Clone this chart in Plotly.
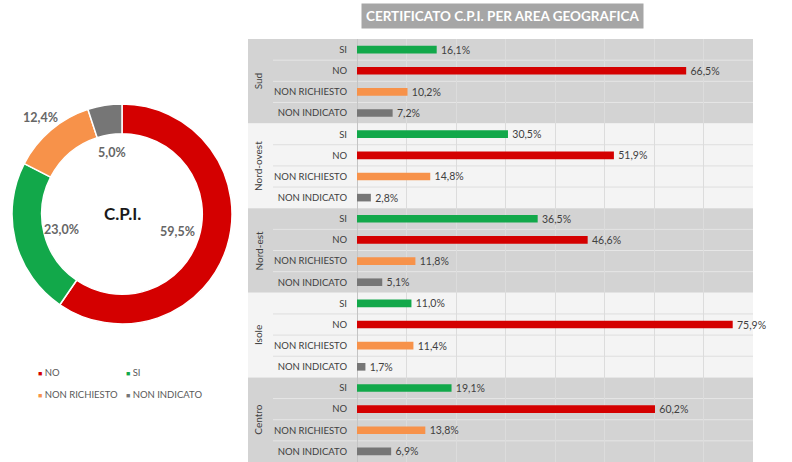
import math
import plotly.graph_objects as go

# ---------------- data ----------------
regions = ["Sud", "Nord-ovest", "Nord-est", "Isole", "Centro"]
categories = ["SI", "NO", "NON RICHIESTO", "NON INDICATO"]
si_vals = [16.1, 30.5, 36.5, 11.0, 19.1]
no_vals = [66.5, 51.9, 46.6, 75.9, 60.2]
nr_vals = [10.2, 14.8, 11.8, 11.4, 13.8]
ni_vals = [7.2, 2.8, 5.1, 1.7, 6.9]

pie_labels = ["NO", "SI", "NON RICHIESTO", "NON INDICATO"]
pie_values = [59.5, 23.0, 12.4, 5.0]

# ---------------- style ----------------
W, H = 792, 462
FONT = "Lato"
colors = {"SI": "#12a84a", "NO": "#d40000", "NON RICHIESTO": "#f7924a", "NON INDICATO": "#767676"}
pie_colors = [colors[l] for l in pie_labels]
dark_bg, light_bg = "#d3d3d3", "#f4f4f4"

# plot area (pixels)
px0, px1 = 357, 753
py_top, py_bot = 39, 462

fig = go.Figure()

# ---------------- bar chart ----------------
series = {"SI": si_vals, "NO": no_vals, "NON RICHIESTO": nr_vals, "NON INDICATO": ni_vals}
n_cat = len(categories)
for k, cat in enumerate(categories):
    vals = series[cat]
    ys = [g * n_cat + k for g in range(len(regions))]
    fig.add_trace(go.Bar(
        x=vals, y=ys, orientation="h", width=0.36,
        marker=dict(color=colors[cat], line=dict(width=0)),
        texttemplate="\u2009%{x:.1f}%", textposition="outside",
        textfont=dict(family=FONT, size=10.5, color="#404040"),
        cliponaxis=False, constraintext="none",
        showlegend=False, hoverinfo="skip",
    ))

n_rows = len(regions) * n_cat
tickvals = list(range(n_rows))
ticktext = categories * len(regions)

xd0, xd1 = px0 / W, px1 / W
yd1 = 1 - py_top / H
fig.update_layout(
    xaxis=dict(domain=[xd0, xd1], range=[0, 80], dtick=10, showticklabels=False,
               showgrid=True, gridcolor="#dcdcdc", gridwidth=1, zeroline=True,
               zerolinecolor="#c4c4c4", zerolinewidth=1, fixedrange=True),
    yaxis=dict(domain=[0, yd1], range=[n_rows - 0.5, -0.5], tickvals=tickvals, ticktext=ticktext,
               tickfont=dict(family=FONT, size=9.5, color="#404040"), showgrid=False,
               zeroline=False, ticks="", ticklabelstandoff=9, fixedrange=True, automargin=False),
)

shapes = []
panel_left = 248 / W
row_left = 273 / W
for g, reg in enumerate(regions):
    bg = dark_bg if g % 2 == 0 else light_bg
    shapes.append(dict(type="rect", xref="paper", yref="y", x0=panel_left, x1=xd1,
                       y0=g * n_cat - 0.5, y1=g * n_cat + n_cat - 0.5,
                       fillcolor=bg, line=dict(width=0), layer="below"))
    sep_col = "#e6e6e6" if g % 2 == 0 else "#dedede"
    for k in range(1, n_cat):
        yy = g * n_cat + k - 0.5
        shapes.append(dict(type="line", xref="paper", yref="y", x0=row_left, x1=xd1,
                           y0=yy, y1=yy, line=dict(color=sep_col, width=1), layer="below"))
fig.update_layout(shapes=shapes)

annotations = []
for g, reg in enumerate(regions):
    annotations.append(dict(xref="paper", yref="y", x=258 / W, y=g * n_cat + (n_cat - 1) / 2,
                            xanchor="center", yanchor="middle",
                            text=reg, textangle=-90, showarrow=False,
                            font=dict(family=FONT, size=10, color="#404040")))

# title
annotations.append(dict(xref="paper", yref="paper", x=503 / W, y=1 - 16 / H,
                        xanchor="center", yanchor="middle",
                        text="<b>CERTIFICATO C.P.I. PER AREA GEOGRAFICA</b>", showarrow=False,
                        font=dict(family=FONT, size=13.5, color="white"),
                        bgcolor="#a6a6a6", borderpad=4))

# ---------------- donut ----------------
cx, cy, R = 122, 214, 110
fig.add_trace(go.Pie(
    labels=pie_labels, values=pie_values, hole=0.73, sort=False, direction="clockwise",
    rotation=0, textinfo="none", hoverinfo="skip", showlegend=False,
    marker=dict(colors=pie_colors, line=dict(color="white", width=1.5)),
    domain=dict(x=[(cx - R) / W, (cx + R) / W], y=[1 - (cy + R) / H, 1 - (cy - R) / H]),
))

label_r = [58, 62, 126, 62]
total = sum(pie_values)
cum = 0
for v, r in zip(pie_values, label_r):
    a = (cum + v / 2) / total * 2 * math.pi
    cum += v
    lx = cx + r * math.sin(a)
    ly = cy - r * math.cos(a)
    annotations.append(dict(xref="paper", yref="paper", x=lx / W, y=1 - ly / H,
                            xanchor="center", yanchor="middle",
                            text="<b>" + f"{v:.1f}%".replace(".", ",") + "</b>", showarrow=False,
                            font=dict(family=FONT, size=12.5, color="#666666")))

annotations.append(dict(xref="paper", yref="paper", x=cx / W, y=1 - 213 / H,
                        xanchor="center", yanchor="middle",
                        text="<b>C.P.I.</b>", showarrow=False,
                        font=dict(family=FONT, size=17, color="#1a1a1a")))

# legend (manual, 2 columns)
leg_pos = [(36, 372), (124, 372), (36, 394), (124, 394)]
for lab, col, (lx, ly) in zip(pie_labels, pie_colors, leg_pos):
    annotations.append(dict(xref="paper", yref="paper", x=lx / W, y=1 - ly / H,
                            xanchor="left", yanchor="middle",
                            text=f"<span style='color:{col};font-size:7px'>■</span> {lab}",
                            showarrow=False, font=dict(family=FONT, size=9.5, color="#595959")))

fig.update_layout(
    annotations=annotations,
    width=W, height=H, margin=dict(l=0, r=0, t=0, b=0, autoexpand=False),
    paper_bgcolor="white", plot_bgcolor="white",
    separators=",.", bargap=0.5, barmode="overlay",
    font=dict(family=FONT),
)

fig.write_html("out.html", config={"displayModeBar": False},
               post_script="document.body.style.margin='0px';document.body.style.overflow='hidden';")
